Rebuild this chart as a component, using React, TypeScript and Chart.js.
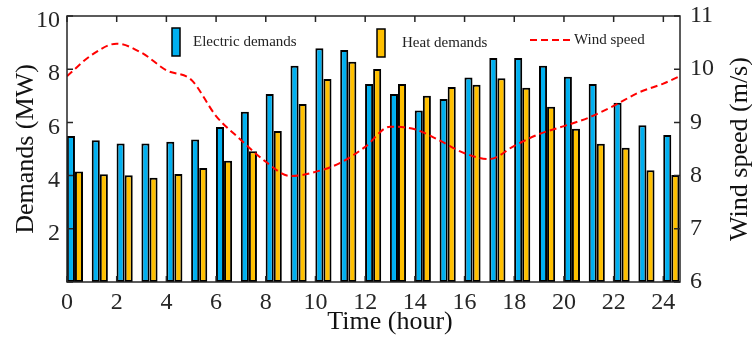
import React, { useEffect, useRef } from "react";
import { Chart, registerables } from "chart.js";

Chart.register(...registerables);

const barHours = [0.32, 1.32, 2.32, 3.32, 4.32, 5.32, 6.32, 7.32, 8.32, 9.32, 10.32, 11.32, 12.32, 13.32, 14.32, 15.32, 16.32, 17.32, 18.32, 19.32, 20.32, 21.32, 22.32, 23.32, 24.32];
const electricDemand = [5.49, 5.33, 5.21, 5.21, 5.27, 5.36, 5.83, 6.4, 7.07, 8.13, 8.79, 8.72, 7.44, 7.07, 6.45, 6.88, 7.69, 8.42, 8.42, 8.13, 7.72, 7.44, 6.74, 5.89, 5.53];
const heatDemand = [4.15, 4.05, 4.01, 3.92, 4.06, 4.29, 4.56, 4.92, 5.68, 6.69, 7.63, 8.28, 8.01, 7.44, 7.0, 7.33, 7.42, 7.66, 7.3, 6.59, 5.76, 5.2, 5.05, 4.2, 4.02];
const windHours = [0, 1, 2, 3, 4, 5, 6, 7, 8, 9, 10, 11, 12, 13, 14, 15, 16, 17, 18, 19, 20, 21, 22, 23, 24, 24.67];
const windSpeed = [9.87, 10.27, 10.48, 10.31, 9.98, 9.8, 9.12, 8.67, 8.26, 7.99, 8.07, 8.24, 8.54, 8.92, 8.87, 8.66, 8.42, 8.31, 8.56, 8.78, 8.93, 9.09, 9.31, 9.56, 9.73, 9.87];

const xTicks = [0, 2, 4, 6, 8, 10, 12, 14, 16, 18, 20, 22, 24];
const leftTicks = [0, 2, 4, 6, 8, 10];
const rightTicks = [6, 7, 8, 9, 10, 11];

const legendLabels = ["Electric demands", "Heat demands", "Wind speed"];
const xTitle = "Time (hour)";
const yTitle = "Demands (MW)";
const y2Title = "Wind speed (m/s)";

const BLUE = "#00b0f0";
const YELLOW = "#ffc000";
const AXIS = "#262626";
const SERIF = "'Liberation Serif', 'Times New Roman', serif";

const framePlugin = {
  id: "frame",
  afterDraw(chart: any) {
    const { ctx, chartArea: ca, scales } = chart;
    const x = scales.x, y = scales.y, y2 = scales.y2;
    ctx.save();
    ctx.strokeStyle = AXIS;
    ctx.lineWidth = 1.5;
    ctx.strokeRect(ca.left, ca.top, ca.right - ca.left, ca.bottom - ca.top);
    const tl = 6;
    ctx.beginPath();
    xTicks.forEach((v) => {
      const px = x.getPixelForValue(v);
      ctx.moveTo(px, ca.bottom);
      ctx.lineTo(px, ca.bottom - tl);
      ctx.moveTo(px, ca.top);
      ctx.lineTo(px, ca.top + tl);
    });
    leftTicks.forEach((v) => {
      const py = y.getPixelForValue(v);
      ctx.moveTo(ca.left, py);
      ctx.lineTo(ca.left + tl, py);
    });
    rightTicks.forEach((v) => {
      const py = y2.getPixelForValue(v);
      ctx.moveTo(ca.right, py);
      ctx.lineTo(ca.right - tl, py);
    });
    ctx.stroke();

    // axis titles
    ctx.fillStyle = "#111";
    ctx.font = `26px ${SERIF}`;
    ctx.textAlign = "center";
    ctx.textBaseline = "middle";
    ctx.fillText(xTitle, ca.left + 323, 322);
    ctx.save();
    ctx.translate(740, (ca.top + ca.bottom) / 2);
    ctx.rotate(-Math.PI / 2);
    ctx.fillText(y2Title, 0, 0);
    ctx.restore();

    // legend
    ctx.font = `15px ${SERIF}`;
    ctx.textBaseline = "middle";
    ctx.textAlign = "left";
    const ly = ca.top + 26;
    ctx.fillStyle = BLUE;
    ctx.fillRect(ca.left + 105, ca.top + 12, 8, 28);
    ctx.lineWidth = 1.5;
    ctx.strokeStyle = "#000";
    ctx.strokeRect(ca.left + 105, ca.top + 12, 8, 28);
    ctx.fillStyle = "#222";
    ctx.fillText(legendLabels[0], ca.left + 126, ly);
    ctx.fillStyle = YELLOW;
    ctx.fillRect(ca.left + 310, ca.top + 13, 8, 28);
    ctx.strokeRect(ca.left + 310, ca.top + 13, 8, 28);
    ctx.fillStyle = "#222";
    ctx.fillText(legendLabels[1], ca.left + 335, ly + 1);
    ctx.strokeStyle = "#ff0000";
    ctx.lineWidth = 2;
    ctx.setLineDash([7, 4]);
    ctx.beginPath();
    ctx.moveTo(ca.left + 463, ca.top + 24);
    ctx.lineTo(ca.left + 503, ca.top + 24);
    ctx.stroke();
    ctx.setLineDash([]);
    ctx.fillStyle = "#222";
    ctx.fillText(legendLabels[2], ca.left + 507, ly - 2);
    ctx.restore();
  },
};

const zeroPad = (s: any) => {
  s.paddingTop = 0;
  s.paddingBottom = 0;
  s.paddingLeft = 0;
  s.paddingRight = 0;
};

export default function App() {
  const ref = useRef<HTMLCanvasElement | null>(null);
  useEffect(() => {
    if (!ref.current) return;
    const chart = new Chart(ref.current, {
      type: "bar",
      data: {
        datasets: [
          {
            type: "line",
            label: legendLabels[2],
            data: windHours.map((h, i) => ({ x: h, y: windSpeed[i] })),
            yAxisID: "y2",
            xAxisID: "x",
            borderColor: "#ff0000",
            borderWidth: 2,
            borderDash: [7, 4],
            pointRadius: 0,
            cubicInterpolationMode: "monotone",
            fill: false,
            order: 0,
          } as any,
          {
            type: "bar",
            label: legendLabels[0],
            data: barHours.map((h, i) => ({ x: h, y: electricDemand[i] })),
            yAxisID: "y",
            xAxisID: "x",
            backgroundColor: BLUE,
            borderColor: "#000",
            borderWidth: 2,
            borderSkipped: false,
            categoryPercentage: 0.65,
            barPercentage: 1,
            order: 1,
          } as any,
          {
            type: "bar",
            label: legendLabels[1],
            data: barHours.map((h, i) => ({ x: h, y: heatDemand[i] })),
            yAxisID: "y",
            xAxisID: "x",
            backgroundColor: YELLOW,
            borderColor: "#000",
            borderWidth: 2,
            borderSkipped: false,
            categoryPercentage: 0.65,
            barPercentage: 1,
            order: 1,
          } as any,
        ],
      },
      options: {
        responsive: false,
        animation: false,
        layout: { padding: { top: 16, left: 0, right: 0, bottom: 0 } },
        plugins: { legend: { display: false }, tooltip: { enabled: false } },
        scales: {
          x: {
            type: "linear",
            position: "bottom",
            offset: false,
            min: 0,
            max: 24.67,
            grid: { display: false, drawTicks: false, offset: false },
            border: { display: false },
            ticks: {
              stepSize: 2,
              includeBounds: false,
              padding: 6,
              color: AXIS,
              font: { family: SERIF, size: 24 },
              maxRotation: 0,
              autoSkip: false,
            },
            title: { display: false },
            afterFit(s: any) {
              s.height = 63;
              zeroPad(s);
            },
          },
          y: {
            type: "linear",
            position: "left",
            min: 0,
            max: 10,
            grid: { display: false, drawTicks: false },
            border: { display: false },
            ticks: {
              stepSize: 2,
              padding: 7,
              labelOffset: 5,
              color: AXIS,
              font: { family: SERIF, size: 24 },
              callback: (v: any) => (v === 0 ? "" : String(v)),
            },
            title: {
              display: true,
              text: yTitle,
              color: "#111",
              font: { family: SERIF, size: 26, lineHeight: 1 },
              padding: { top: 13, bottom: 0 },
            },
            afterFit(s: any) {
              s.width = 67;
              zeroPad(s);
            },
          },
          y2: {
            type: "linear",
            position: "right",
            min: 6,
            max: 11,
            grid: { display: false, drawTicks: false },
            border: { display: false },
            ticks: {
              stepSize: 1,
              padding: 10,
              color: AXIS,
              font: { family: SERIF, size: 24 },
            },
            title: { display: false },
            afterFit(s: any) {
              s.width = 72;
              zeroPad(s);
            },
          },
        },
      } as any,
      plugins: [framePlugin],
    });
    return () => chart.destroy();
  }, []);
  return (
    <div style={{ position: "absolute", left: 0, top: 0, width: 752, height: 345, background: "#fff" }}>
      <canvas ref={ref} width={752} height={345} style={{ display: "block" }} />
    </div>
  );
}
